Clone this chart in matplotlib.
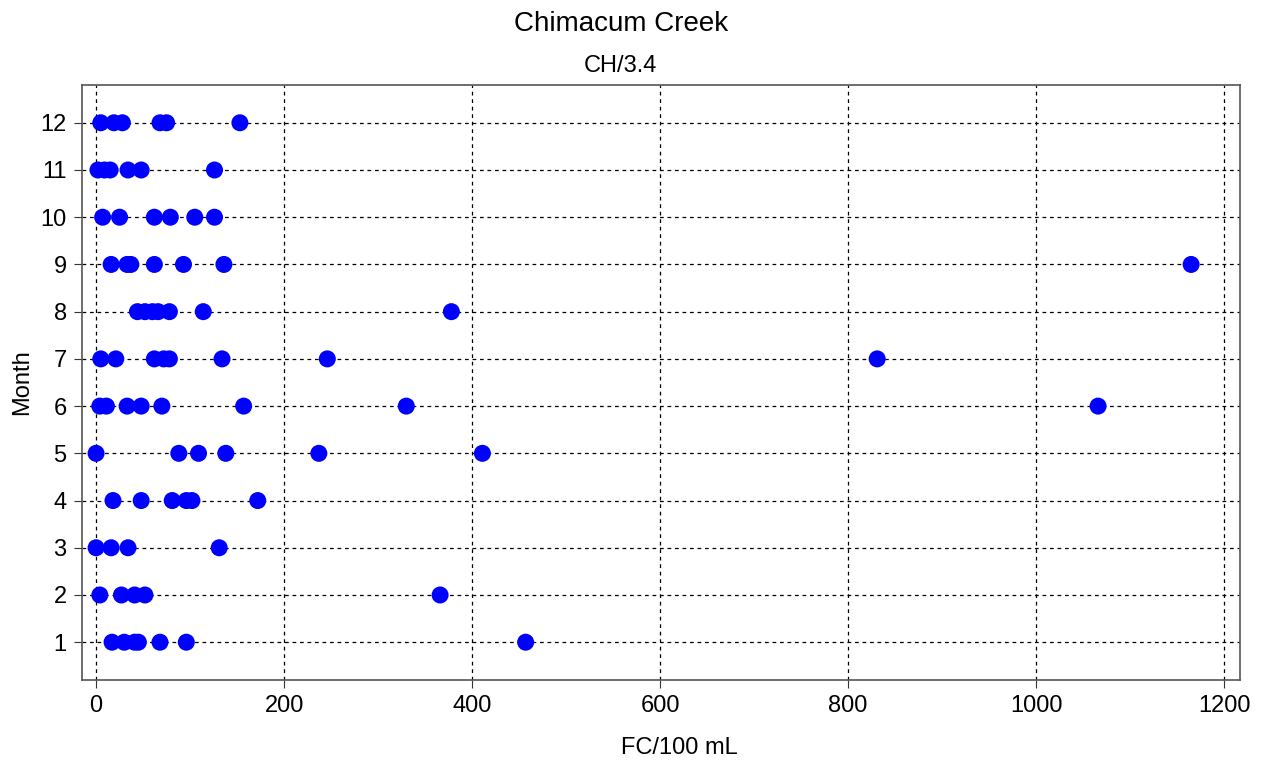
import matplotlib
matplotlib.use('Agg')
import matplotlib.pyplot as plt

plt.rcParams['font.family'] = ['Liberation Sans', 'DejaVu Sans']

# FC/100 mL samples per month
fc_by_month = {
    1: [17, 30, 41, 45, 68, 96, 457],
    2: [4, 27, 41, 52, 366],
    3: [0, 16, 34, 131],
    4: [18, 48, 81, 96, 102, 172],
    5: [0, 88, 109, 138, 237, 411],
    6: [4, 11, 33, 48, 70, 157, 330, 1066],
    7: [5, 21, 62, 72, 78, 134, 246, 831],
    8: [44, 52, 60, 66, 78, 114, 378],
    9: [16, 33, 37, 62, 93, 136, 1165],
    10: [7, 25, 62, 79, 105, 126],
    11: [2, 9, 15, 34, 48, 126],
    12: [5, 19, 28, 68, 75, 153],
}
title = 'Chimacum Creek'
subtitle = 'CH/3.4'
x_ticks = [0, 200, 400, 600, 800, 1000, 1200]
months = list(range(1, 13))

fig = plt.figure(figsize=(12.67, 7.63), dpi=100)
ax = fig.add_axes([0.0647, 0.1088, 0.9140, 0.7798])

for m, vals in fc_by_month.items():
    ax.scatter(vals, [m] * len(vals), s=150, color='#0000ff', edgecolors='none', zorder=3)

ax.set_xlim(-15, 1217)
ax.set_ylim(0.2, 12.8)
ax.set_xticks(x_ticks)
ax.set_yticks(months)
ax.grid(True, color='black', linestyle=(0, (3, 3)), linewidth=0.9)
ax.tick_params(labelsize=17, direction='out', length=6, color='#333333', pad=5)
for s in ax.spines.values():
    s.set_color('#555555')
    s.set_linewidth(1.2)

ax.set_xlabel('FC/100 mL', fontsize=17)
ax.set_ylabel('Month', fontsize=17)
ax.xaxis.set_label_coords(0.5155, -0.095)
ax.yaxis.set_label_coords(-0.042, 0.5)
fig.text(0.49, 0.969, title, ha='center', va='center', fontsize=20)
fig.text(0.49, 0.914, subtitle, ha='center', va='center', fontsize=17)

fig.savefig('out.png', dpi=100)
